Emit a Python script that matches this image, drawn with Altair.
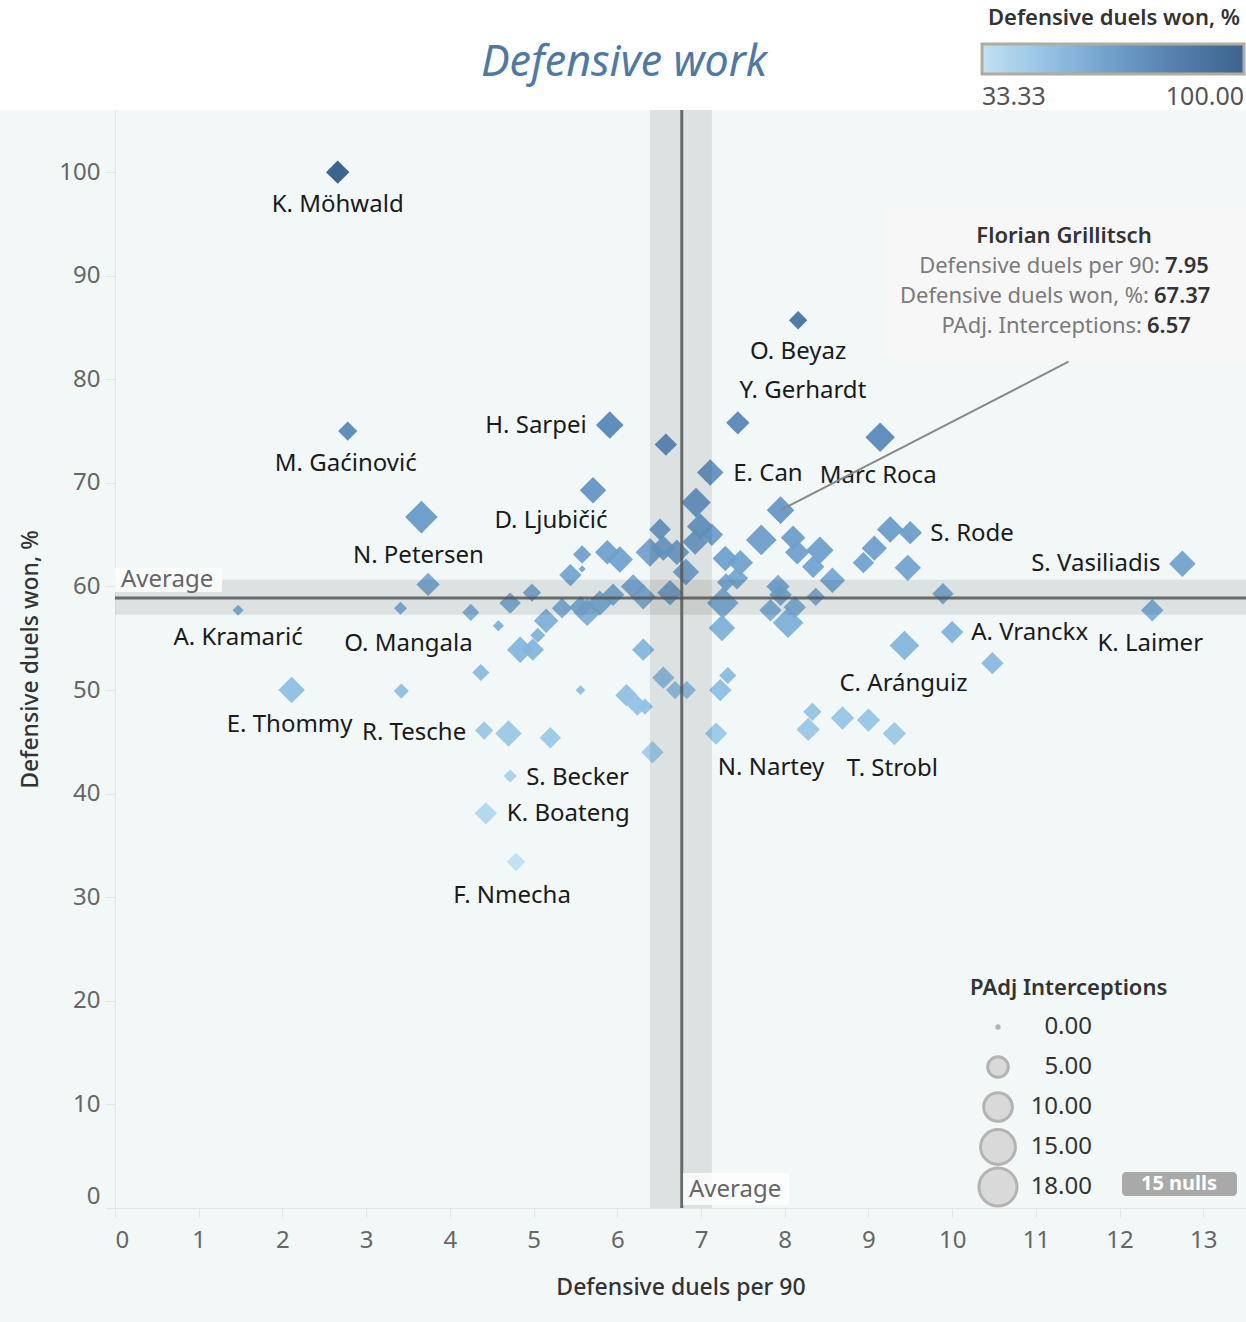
import altair as alt
import pandas as pd

# ---------------- data ----------------
players = [
    "K. Möhwald", "O. Beyaz", "Y. Gerhardt", "Marc Roca", "H. Sarpei", "M. Gaćinović", "", "E. Can", "D. Ljubičić", "N. Petersen",
    "Florian Grillitsch", "", "", "", "", "", "", "", "", "",
    "", "", "", "", "", "", "", "", "", "",
    "", "", "", "", "S. Rode", "", "S. Vasiliadis", "", "K. Laimer", "A. Vranckx",
    "C. Aránguiz", "", "", "", "", "", "", "", "", "",
    "", "", "", "", "", "", "", "", "", "",
    "", "", "", "", "", "O. Mangala", "A. Kramarić", "", "", "",
    "", "", "", "", "", "", "E. Thommy", "", "", "",
    "", "", "", "", "", "", "N. Nartey", "R. Tesche", "", "",
    "", "S. Becker", "K. Boateng", "F. Nmecha", "", "", "", "", "T. Strobl",
]
duels_per90 = [
    2.66, 8.16, 7.44, 9.14, 5.91, 2.78, 6.58, 7.11, 5.71, 3.66,
    7.95, 6.94, 6.51, 6.99, 7.13, 6.93, 6.39, 6.55, 6.71, 5.88,
    6.03, 5.58, 5.58, 5.44, 6.82, 7.72, 8.10, 8.15, 8.42, 8.34,
    8.57, 8.94, 9.07, 9.26, 9.50, 9.47, 12.75, 9.89, 12.39, 10.0,
    9.43, 10.48, 7.29, 7.47, 7.43, 7.30, 7.26, 7.25, 7.92, 7.95,
    7.83, 8.04, 8.12, 8.37, 6.19, 6.31, 5.95, 5.79, 6.63, 5.64,
    5.56, 5.34, 4.98, 4.72, 3.74, 3.41, 1.47, 4.25, 4.58, 5.15,
    5.05, 4.84, 4.99, 6.31, 4.37, 3.42, 2.11, 5.56, 6.55, 6.69,
    6.83, 6.11, 6.24, 6.33, 7.32, 7.23, 7.18, 4.41, 4.70, 5.20,
    6.42, 4.72, 4.43, 4.79, 8.33, 8.28, 8.69, 9.00, 9.31,
]
duels_won = [
    100.0, 85.7, 75.8, 74.4, 75.6, 75.0, 73.7, 71.0, 69.3, 66.7,
    67.37, 68.1, 65.5, 65.8, 65.0, 64.3, 63.3, 63.7, 63.3, 63.3,
    62.6, 63.1, 61.7, 61.1, 61.4, 64.5, 64.7, 63.3, 63.5, 61.9,
    60.6, 62.3, 63.7, 65.5, 65.2, 61.8, 62.2, 59.3, 57.7, 55.6,
    54.3, 52.6, 62.7, 62.3, 60.8, 60.4, 58.4, 56.0, 60.0, 59.2,
    57.7, 56.5, 58.0, 59.0, 60.0, 59.0, 59.2, 58.4, 59.4, 57.5,
    58.0, 57.9, 59.4, 58.4, 60.2, 57.9, 57.7, 57.5, 56.2, 56.7,
    55.3, 53.9, 53.9, 53.9, 51.7, 49.9, 50.0, 50.0, 51.2, 50.0,
    50.0, 49.5, 48.5, 48.4, 51.4, 50.0, 45.8, 46.1, 45.8, 45.4,
    44.0, 41.7, 38.1, 33.4, 47.9, 46.2, 47.3, 47.1, 45.8,
]
padj_interceptions = [
    4.6, 2.7, 4.6, 7.6, 6.5, 3.0, 4.2, 6.0, 6.0, 9.3,
    6.57, 7.6, 4.0, 6.0, 4.2, 5.5, 7.1, 5.5, 5.5, 5.1,
    6.0, 2.7, 0.1, 4.2, 6.0, 8.2, 5.1, 5.1, 6.5, 4.2,
    5.5, 3.8, 5.5, 6.0, 4.6, 6.0, 6.0, 3.8, 4.2, 4.2,
    7.6, 4.2, 5.5, 5.5, 4.2, 2.7, 8.7, 6.0, 4.6, 4.2,
    4.2, 8.2, 4.2, 2.7, 5.1, 5.5, 4.2, 5.5, 5.5, 6.5,
    4.2, 3.4, 2.7, 3.8, 4.6, 1.2, 0.75, 2.3, 0.75, 5.1,
    1.7, 6.0, 4.2, 4.2, 2.3, 1.7, 6.0, 0.5, 4.2, 2.7,
    2.7, 4.2, 3.4, 2.0, 2.3, 4.2, 4.2, 2.7, 6.0, 3.8,
    4.2, 1.2, 4.2, 2.7, 2.7, 4.6, 4.6, 4.6, 4.6,
]

avg_per90 = 6.77
avg_won = 58.9
band_per90 = [6.39, 7.13]
band_won = [57.26, 60.64]

tooltip_player = "Florian Grillitsch"
tooltip_rows = ["Defensive duels per 90:", "Defensive duels won, %:", "PAdj. Interceptions:"]
tooltip_vals = ["7.95", "67.37", "6.57"]
tooltip_anchor = [11.39, 81.7]   # where the callout line meets the box (data units)
null_count = 15

size_legend_values = [0, 5, 10, 15, 18]
color_legend_values = [33.33, 100]
x_ticks = list(range(14))
y_ticks = list(range(0, 101, 10))

# ---------------- styles ----------------
label_style = {
    "K. Möhwald": (0, 33, "center"), "O. Beyaz": (0, 32, "center"),
    "Y. Gerhardt": (65, -32, "center"), "Marc Roca": (-2, 39, "center"),
    "H. Sarpei": (-23, 1, "right"), "M. Gaćinović": (-2, 33, "center"),
    "E. Can": (23, 1, "left"), "D. Ljubičić": (-42, 31, "center"),
    "N. Petersen": (-3, 39, "center"), "S. Rode": (20, 1, "left"),
    "S. Vasiliadis": (-22, 0, "right"), "K. Laimer": (-2, 34, "center"),
    "A. Vranckx": (19, 1, "left"), "C. Aránguiz": (-1, 38, "center"),
    "O. Mangala": (8, 36, "center"), "A. Kramarić": (0, 28, "center"),
    "E. Thommy": (-2, 35, "center"), "N. Nartey": (55, 34, "center"),
    "R. Tesche": (-18, 3, "right"), "S. Becker": (16, 2, "left"),
    "K. Boateng": (21, 1, "left"), "F. Nmecha": (-4, 34, "center"),
    "T. Strobl": (-2, 35, "center"),
}

FONT = "Noto Sans"
W, H = 1131, 1098
BG = "#f1f8f7"
DIAMOND = "M-1.18,0L0,-1.18L1.18,0L0,1.18Z"
X_TITLE = "Defensive duels per 90"
Y_TITLE = "Defensive duels won, %"

# size-legend layout (px inside the plot area)
SL_TITLE_X, SL_TITLE_Y = 855, 878
SL_SYM_X, SL_LAB_X = 883, 977
SL_ROW0, SL_PITCH = 917, 40

df = pd.DataFrame({
    "player": players,
    "per90": duels_per90,
    "won": duels_won,
    "padj": padj_interceptions,
})

x_scale = alt.Scale(domain=[0, 13.51], nice=False, zero=False)
y_scale = alt.Scale(domain=[0, 106], nice=False, zero=False)
x_axis = alt.Axis(values=x_ticks)
y_axis = alt.Axis(values=y_ticks, labelFlush=True)
color_scale = alt.Scale(
    domain=[33.33, 49.9975, 66.665, 83.3325, 100],
    range=["#bde0f3", "#8cbde2", "#6497c7", "#4674a6", "#2b5886"],
)
size_scale = alt.Scale(domain=[0, 18], range=[28, 1450], zero=False)


def X(field):
    return alt.X(field, type="quantitative", scale=x_scale, title=X_TITLE, axis=x_axis)


def Y(field):
    return alt.Y(field, type="quantitative", scale=y_scale, title=Y_TITLE, axis=y_axis)


one = pd.DataFrame({"k": [0]})

header = alt.Chart(one).mark_rect(color="white").encode(
    x=alt.value(-115), x2=alt.value(W), y=alt.value(-110), y2=alt.value(0)
)

title = alt.Chart(one).mark_text(
    text="Defensive work", font=FONT, fontSize=43, fontStyle="italic",
    color="#4e79a7", align="center", baseline="middle"
).encode(x=alt.value(509), y=alt.value(-47))

points = alt.Chart(df).mark_point(
    filled=True, shape=DIAMOND, opacity=0.92, strokeWidth=0
).encode(
    x=X("per90"),
    y=Y("won"),
    color=alt.Color("won:Q", scale=color_scale, legend=alt.Legend(
        title="Defensive duels won, %", orient="none", legendX=867, legendY=-102,
        direction="horizontal", gradientLength=262, gradientThickness=30,
        gradientStrokeColor="#aaa596", gradientStrokeWidth=3,
        values=color_legend_values, format=".2f",
        titleFontSize=22, titleFontWeight=600, titleColor="#333333", titleAnchor="middle",
        titleLimit=500, titlePadding=14, labelFontSize=25, labelColor="#555555", labelOffset=11,
        titleFont=FONT, labelFont=FONT,
    )),
    size=alt.Size("padj:Q", scale=size_scale, legend=None),
    order=alt.Order("padj:Q", sort="descending"),
    tooltip=["player:N", "per90:Q", "won:Q", "padj:Q"],
)

vband = alt.Chart(pd.DataFrame({"a": [band_per90[0]], "b": [band_per90[1]]})).mark_rect(
    color="black", opacity=0.085
).encode(x=X("a"), x2="b:Q", y=alt.value(0), y2=alt.value(H))
hband = alt.Chart(pd.DataFrame({"a": [band_won[0]], "b": [band_won[1]]})).mark_rect(
    color="black", opacity=0.085
).encode(y=Y("a"), y2="b:Q", x=alt.value(0), x2=alt.value(W))
vline = alt.Chart(pd.DataFrame({"v": [avg_per90]})).mark_rule(
    color="#555555", strokeWidth=3, opacity=0.85
).encode(x=X("v"))
hline = alt.Chart(pd.DataFrame({"v": [avg_won]})).mark_rule(
    color="#555555", strokeWidth=3, opacity=0.85
).encode(y=Y("v"))

avg_box_h = alt.Chart(one).mark_rect(color="white", opacity=0.8).encode(
    x=alt.value(0), x2=alt.value(107), y=alt.value(458), y2=alt.value(482))
avg_txt_h = alt.Chart(one).mark_text(
    text="Average", font=FONT, fontSize=24, color="#666666", align="left", baseline="middle"
).encode(x=alt.value(6), y=alt.value(470))
avg_box_v = alt.Chart(one).mark_rect(color="white", opacity=0.8).encode(
    x=alt.value(568), x2=alt.value(674), y=alt.value(1063), y2=alt.value(1095))
avg_txt_v = alt.Chart(one).mark_text(
    text="Average", font=FONT, fontSize=24, color="#666666", align="left", baseline="middle"
).encode(x=alt.value(574), y=alt.value(1080))

label_layers = []
for name, (ddx, ddy, al) in label_style.items():
    label_layers.append(
        alt.Chart(df).transform_filter(alt.datum.player == name).mark_text(
            font=FONT, fontSize=24, color="#1a1a1a", align=al, baseline="middle",
            dx=ddx, dy=ddy,
        ).encode(x=X("per90"), y=Y("won"), text="player:N")
    )

hl = df[df["player"] == tooltip_player].copy()
hl["ax"] = tooltip_anchor[0]
hl["ay"] = tooltip_anchor[1]
callout = alt.Chart(hl).mark_rule(color="#888888", strokeWidth=2).encode(
    x=X("per90"), y=Y("won"), x2="ax:Q", y2="ay:Q",
)
tip_box = alt.Chart(one).mark_rect(color="#f7f7f7", opacity=0.96).encode(
    x=alt.value(772), x2=alt.value(W), y=alt.value(97), y2=alt.value(250))
tip_title = alt.Chart(one).mark_text(
    text=tooltip_player, font=FONT, fontSize=22, fontWeight=600, color="#333333",
    align="center", baseline="middle"
).encode(x=alt.value(949), y=alt.value(126))
tip_layers = [tip_box, tip_title]
split_x = [1045, 1034, 1027]
for i, (lbl, val) in enumerate(zip(tooltip_rows, tooltip_vals)):
    yy = 156 + 30 * i
    tip_layers.append(alt.Chart(one).mark_text(
        text=lbl, font=FONT, fontSize=22, color="#7a7a7a", align="right", baseline="middle"
    ).encode(x=alt.value(split_x[i]), y=alt.value(yy)))
    tip_layers.append(alt.Chart(one).mark_text(
        text=val, font=FONT, fontSize=22, fontWeight=600, color="#333333", align="left", baseline="middle"
    ).encode(x=alt.value(split_x[i] + 5), y=alt.value(yy)))

# size legend (Tableau style: grey circles, fixed row pitch), sized by the same scale
size_leg_layers = [
    alt.Chart(one).mark_text(
        text="PAdj Interceptions", font=FONT, fontSize=22, fontWeight=600, color="#333333",
        align="left", baseline="middle"
    ).encode(x=alt.value(SL_TITLE_X), y=alt.value(SL_TITLE_Y))
]
for i, v in enumerate(size_legend_values):
    row = pd.DataFrame({"padj": [v], "lab": [f"{v:.2f}"]})
    yy = SL_ROW0 + SL_PITCH * i
    size_leg_layers.append(
        alt.Chart(row).mark_point(
            shape="circle", filled=False, fill="#d9d9d9" if v > 0 else "#b3b3b3",
            stroke="#b3b3b3", strokeWidth=3 if v > 0 else 0, opacity=1,
        ).encode(
            size=alt.Size("padj:Q", scale=size_scale, legend=None),
            x=alt.value(SL_SYM_X), y=alt.value(yy),
        )
    )
    size_leg_layers.append(
        alt.Chart(row).mark_text(
            font=FONT, fontSize=24, color="#333333", align="right", baseline="middle"
        ).encode(text="lab:N", x=alt.value(SL_LAB_X), y=alt.value(yy))
    )

null_box = alt.Chart(one).mark_rect(color="#a9a9a9", cornerRadius=4).encode(
    x=alt.value(1007), x2=alt.value(1122), y=alt.value(1062), y2=alt.value(1086))
null_txt = alt.Chart(one).mark_text(
    text=f"{null_count} nulls", font=FONT, fontSize=20, fontWeight="bold", color="white",
    align="center", baseline="middle"
).encode(x=alt.value(1064), y=alt.value(1074))

chart = alt.layer(
    header, title, points, vband, hband, vline, hline,
    avg_box_h, avg_txt_h, avg_box_v, avg_txt_v,
    *label_layers, callout, *tip_layers, *size_leg_layers, null_box, null_txt,
).properties(
    width=W, height=H,
    padding={"left": 115, "top": 110, "right": 0, "bottom": 114},
    autosize=alt.AutoSizeParams(type="none"),
    background=BG,
).configure(font=FONT).configure_view(stroke=None).configure_axis(
    grid=False, domainColor="#e2e8e7", tickColor="#e2e8e7", tickSize=10,
    labelFont=FONT, labelFontSize=24, labelColor="#666666",
    titleFont=FONT, titleFontSize=23, titleColor="#333333", titleFontWeight=500,
).configure_axisX(labelPadding=10, titlePadding=24).configure_axisY(
    labelPadding=5, titlePadding=16
)

chart.save("out.html", embed_options={"renderer": "svg", "actions": False})
